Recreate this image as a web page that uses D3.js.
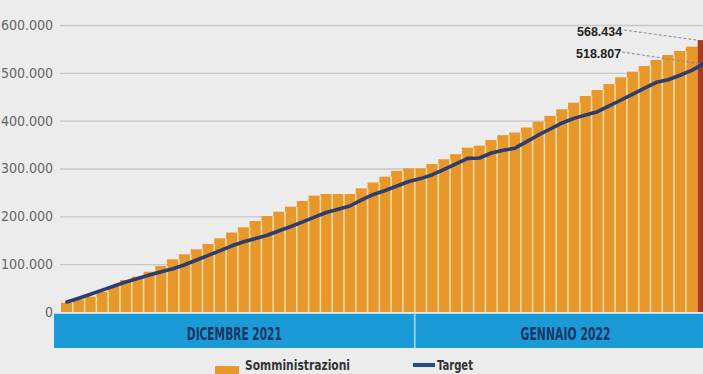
<!DOCTYPE html>
<html>
<head>
<meta charset="utf-8">
<script src="https://cdn.jsdelivr.net/npm/d3@7"></script>
<style>
  html, body { margin: 0; padding: 0; background: #ececec; }
  svg { display: block; }
</style>
</head>
<body>
<svg id="chart" width="703" height="374"></svg>
<script>
// ---- DATA ----
const days = [
  "02/12","03/12","04/12","05/12","06/12","07/12","08/12","09/12","10/12","11/12",
  "12/12","13/12","14/12","15/12","16/12","17/12","18/12","19/12","20/12","21/12",
  "22/12","23/12","24/12","25/12","26/12","27/12","28/12","29/12","30/12","31/12",
  "01/01","02/01","03/01","04/01","05/01","06/01","07/01","08/01","09/01","10/01",
  "11/01","12/01","13/01","14/01","15/01","16/01","17/01","18/01","19/01","20/01",
  "21/01","22/01","23/01","24/01","25/01"
];
const months = ["DICEMBRE 2021", "GENNAIO 2022"];
const monthStart = [0, 30]; // index of first day of each month
const somministrazioni = [
  19400, 26600, 32000, 42400, 54400, 66900, 73800, 84300, 96200, 110200,
  120600, 131100, 142200, 154100, 166200, 177100, 190300, 200700, 209700, 220200,
  232100, 243200, 246700, 246700, 246700, 258600, 270700, 282900, 295200, 300400,
  300400, 309400, 319300, 329900, 343500, 347700, 359600, 369600, 375300, 385700,
  397900, 410000, 423800, 437600, 451600, 464100, 476700, 490700, 502400, 514300,
  526900, 537300, 545700, 554700, 568434
];
const target = [
  20900, 28900, 37200, 45800, 54400, 62700, 70000, 77400, 84300, 90500,
  98700, 108700, 118500, 128400, 138400, 146800, 153700, 160400, 169800, 178800,
  188400, 198200, 208000, 214900, 221600, 234200, 245700, 254000, 263400, 272800,
  278900, 287100, 298300, 309800, 321100, 322000, 332400, 338100, 342500, 356300,
  370100, 382600, 395200, 404800, 411700, 418800, 431100, 443200, 455600, 467900,
  480200, 485500, 494900, 505300, 518807
];
const yTicks = [0, 100000, 200000, 300000, 400000, 500000, 600000];
const legendLabels = ["Somministrazioni", "Target"];

// ---- LAYOUT ----
const svg = d3.select("#chart");
const W = 703;
const x0 = 61, step = 11.79;
const x = d3.scaleBand().domain(days).range([x0, x0 + step * days.length]).padding(0);
const y = d3.scaleLinear().domain([0, 600000]).range([312, 25]);
const it = d3.formatLocale({decimal: ",", thousands: ".", grouping: [3], currency: ["€", ""]});
const fmt = it.format(",d");

const narrow = "'Liberation Sans Narrow', 'DejaVu Sans Condensed', 'Roboto', sans-serif";

// gridlines + y labels
const yAxis = d3.axisLeft(y).tickValues(yTicks).tickFormat(fmt)
  .tickSize(-(W - 60)).tickPadding(7);
const gy = svg.append("g").attr("transform", "translate(60,0)").call(yAxis);
gy.select(".domain").remove();
gy.selectAll(".tick line").attr("stroke", "#c6c6c6").attr("stroke-width", 1.4);
gy.selectAll(".tick text")
  .attr("fill", "#666")
  .style("font-family", narrow)
  .style("font-size", "14px");

// bars
const colors = { bar: "#e8972b", last: "#a63a24", sep: "#f7dba2", line: "#2c3d6f", band: "#1a9bd8", bandText: "#1b3563" };
svg.append("g").selectAll("rect").data(days).join("rect")
  .attr("x", d => x(d))
  .attr("width", x.bandwidth())
  .attr("y", (d, i) => y(somministrazioni[i]))
  .attr("height", (d, i) => y(0) - y(somministrazioni[i]))
  .attr("fill", (d, i) => i === days.length - 1 ? colors.last : colors.bar);

// separators between bars
svg.append("g").selectAll("line").data(days.slice(1, days.length - 1)).join("line")
  .attr("x1", d => x(d)).attr("x2", d => x(d))
  .attr("y1", y(0))
  .attr("y2", (d, j) => y(Math.min(somministrazioni[j], somministrazioni[j + 1])))
  .attr("stroke", colors.sep).attr("stroke-width", 1.6);

// target line
const line = d3.line()
  .x((d, i) => x(days[i]) + x.bandwidth() / 2)
  .y(d => y(d))
  .curve(d3.curveLinear);
svg.append("path").datum(target)
  .attr("d", line)
  .attr("fill", "none")
  .attr("stroke", colors.line)
  .attr("stroke-width", 3.6)
  .attr("stroke-linejoin", "round")
  .attr("stroke-linecap", "round");

// month band
const bandLeft = x0 - 7;
const bandRight = x0 + step * days.length + 7;
const bandTop = y(0) + 1.8, bandBottom = 348;
svg.append("rect").attr("x", bandLeft).attr("y", y(0)).attr("width", bandRight - bandLeft)
  .attr("height", 1.8).attr("fill", "#d8eef8");
months.forEach((m, k) => {
  const xs = k === 0 ? bandLeft : x(days[monthStart[k]]);
  const xe = k === months.length - 1 ? bandRight : x(days[monthStart[k + 1]]);
  svg.append("rect").attr("x", xs).attr("y", bandTop).attr("width", xe - xs)
    .attr("height", bandBottom - bandTop).attr("fill", colors.band);
  svg.append("text")
    .attr("x", (xs + xe) / 2).attr("y", 340)
    .attr("text-anchor", "middle")
    .attr("fill", colors.bandText)
    .attr("textLength", k === 0 ? 95 : 90)
    .attr("lengthAdjust", "spacingAndGlyphs")
    .style("font-family", narrow)
    .style("font-weight", "bold")
    .style("font-size", "17px")
    .text(m);
});
// divider
svg.append("line")
  .attr("x1", x(days[monthStart[1]])).attr("x2", x(days[monthStart[1]]))
  .attr("y1", bandTop).attr("y2", bandBottom)
  .attr("stroke", "#a9dcf3").attr("stroke-width", 1.6);

// annotations
const last = days.length - 1;
const annots = [
  { v: somministrazioni[last], tx: 577, ty: 36, lx: 624, ly: 30, ex: x(days[last]) - 0.5 },
  { v: target[last], tx: 576, ty: 57.5, lx: 622, ly: 52, ex: x(days[last]) + 3 }
];
annots.forEach(a => {
  svg.append("line")
    .attr("x1", a.lx).attr("y1", a.ly)
    .attr("x2", a.ex).attr("y2", y(a.v))
    .attr("stroke", "#8a8a8a").attr("stroke-width", 1)
    .attr("stroke-dasharray", "3,2");
  svg.append("text")
    .attr("x", a.tx).attr("y", a.ty)
    .attr("fill", "#222")
    .style("font-family", "'Liberation Sans', Arial, sans-serif")
    .style("font-weight", "bold")
    .style("font-size", "12.5px")
    .text(fmt(a.v));
});

// legend
svg.append("rect").attr("x", 215).attr("y", 366).attr("width", 24).attr("height", 10).attr("fill", colors.bar);
svg.append("text").attr("x", 245).attr("y", 370)
  .attr("fill", "#333")
  .attr("textLength", 105).attr("lengthAdjust", "spacingAndGlyphs")
  .style("font-family", narrow).style("font-weight", "bold").style("font-size", "14px")
  .text(legendLabels[0]);
svg.append("line").attr("x1", 413).attr("x2", 435).attr("y1", 365).attr("y2", 365)
  .attr("stroke", "#2a4a86").attr("stroke-width", 4);
svg.append("text").attr("x", 437).attr("y", 370)
  .attr("fill", "#333")
  .attr("textLength", 36).attr("lengthAdjust", "spacingAndGlyphs")
  .style("font-family", narrow).style("font-weight", "bold").style("font-size", "14px")
  .text(legendLabels[1]);
</script>
</body>
</html>
